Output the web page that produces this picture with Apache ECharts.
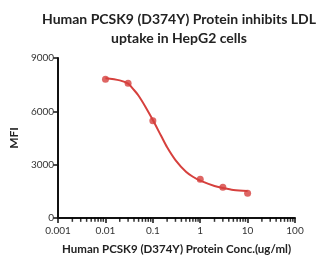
<!DOCTYPE html>
<html><head><meta charset="utf-8">
<script src="https://cdn.jsdelivr.net/npm/echarts@6/dist/echarts.min.js"></script>
<style>html,body{margin:0;padding:0;background:#fff}#c{width:318px;height:267px}</style>
</head><body><div id="c"></div>
<script>
const titleLines = ['Human PCSK9 (D374Y) Protein inhibits LDL', 'uptake in HepG2 cells'];
const xAxisName = 'Human PCSK9 (D374Y) Protein Conc.(ug/ml)';
const yAxisName = 'MFI';
const pointConc = [0.01, 0.03, 0.1, 1, 3, 10];
const pointMFI = [7800, 7580, 5470, 2180, 1730, 1390];
const curveConc = [0.01, 0.02, 0.03, 0.04, 0.05, 0.07, 0.1, 0.15, 0.2, 0.3, 0.5, 0.7, 1, 2, 3, 5, 10];
const curveMFI = [7860, 7740, 7560, 7200, 6880, 6250, 5510, 4610, 3980, 3260, 2600, 2320, 2100, 1800, 1690, 1580, 1520];
const yTicks = [0, 3000, 6000, 9000];
const xTickLabels = ['0.001', '0.01', '0.1', '1', '10', '100'];
const decades = [0.001, 0.01, 0.1, 1, 10];
const minorMultipliers = [2, 3, 4, 5, 6, 7, 8, 9];

const minorTickValues = [];
decades.forEach(d => minorMultipliers.forEach(m => minorTickValues.push([d * m, 150])));

const red = '#d6403d';
const chart = echarts.init(document.getElementById('c'), null, {renderer: 'canvas'});
const fontFam = 'Lato, "Open Sans", sans-serif';
chart.setOption({
  animation: false,
  title: {
    text: titleLines.join('\n'),
    left: 174, top: 5, textAlign: 'center',
    textStyle: {fontFamily: fontFam, fontWeight: 'bold', fontSize: 14, lineHeight: 19, color: '#222'}
  },
  grid: {left: 55, right: 23, top: 58, bottom: 49},
  xAxis: {
    type: 'log', logBase: 10, min: 0.001, max: 100,
    name: xAxisName, nameLocation: 'middle', nameGap: 25,
    nameTextStyle: {fontFamily: fontFam, fontWeight: 'bold', fontSize: 11.5, color: '#222'},
    axisLine: {lineStyle: {color: '#111', width: 2}},
    axisTick: {show: true, inside: false, length: 5, lineStyle: {color: '#111', width: 1.5}},
    axisLabel: {fontFamily: fontFam, fontSize: 10, color: '#333', margin: 8,
      formatter: v => { const i = Math.round(Math.log10(v)) + 3; return xTickLabels[i] !== undefined ? xTickLabels[i] : ''; }},
    splitLine: {show: false}
  },
  yAxis: {
    type: 'value', min: yTicks[0], max: yTicks[yTicks.length - 1], interval: 3000,
    name: yAxisName, nameLocation: 'middle', nameGap: 37, nameRotate: 90,
    nameTextStyle: {fontFamily: fontFam, fontWeight: 'bold', fontSize: 12, color: '#222'},
    axisLine: {show: true, lineStyle: {color: '#111', width: 2}},
    axisTick: {show: true, length: 5, lineStyle: {color: '#111', width: 1.5}},
    axisLabel: {fontFamily: fontFam, fontSize: 10, color: '#333', margin: 4, formatter: v => String(v)},
    splitLine: {show: false}
  },
  series: [
    {type: 'scatter', data: minorTickValues, silent: true, z: 5,
     symbol: 'rect', symbolSize: [1.5, 4], symbolOffset: [0, 4.5], itemStyle: {color: '#000'}},
    {type: 'line', data: curveConc.map((x, i) => [x, curveMFI[i]]), smooth: 0.3, showSymbol: false,
     lineStyle: {color: red, width: 2}, z: 2},
    {type: 'scatter', data: pointConc.map((x, i) => [x, pointMFI[i]]), symbol: 'circle', symbolSize: 7,
     itemStyle: {color: red}, z: 3}
  ]
});
</script></body></html>
